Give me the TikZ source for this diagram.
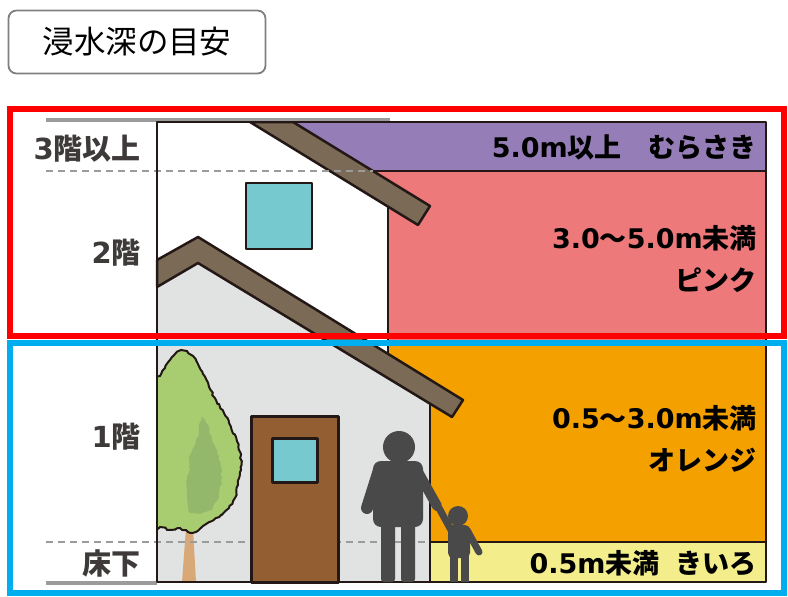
\documentclass[tikz,border=0pt]{standalone}
\usepackage{fontspec}
\setmainfont{Noto Sans CJK JP}
\newfontfamily\numfont{DejaVu Sans}
\newcommand{\dg}[1]{{\numfont #1}}
\usetikzlibrary{decorations.pathmorphing}

\definecolor{inkline}{HTML}{231815}
\definecolor{floorgray}{HTML}{9B9B9B}
\definecolor{roofbrown}{HTML}{7B6A56}
\definecolor{wallgray}{HTML}{E1E2E2}
\definecolor{glass}{HTML}{76C9CE}
\definecolor{doorbrown}{HTML}{935F32}
\definecolor{leaf}{HTML}{A8CC70}
\definecolor{leafdark}{HTML}{93B86C}
\definecolor{trunk}{HTML}{D9A877}
\definecolor{shadow}{HTML}{4A4949}
\definecolor{lvpurple}{HTML}{957EB7}
\definecolor{lvpink}{HTML}{EE797B}
\definecolor{lvorange}{HTML}{F4A100}
\definecolor{lvyellow}{HTML}{F3EE8B}
\definecolor{labelink}{HTML}{3E3A39}
\definecolor{framered}{HTML}{FF0000}
\definecolor{frameblue}{HTML}{00AEEF}

\begin{document}
\begin{tikzpicture}[x=1pt,y=-1pt,
        outline/.style={draw=inkline,line width=2.5pt,line join=round},
        floor/.style={draw=floorgray,line width=4pt},
        level/.style={draw=floorgray,line width=2.2pt,dash pattern=on 7pt off 5pt},
        floorlabel/.style={anchor=east,text=labelink,inner sep=0pt,
            font=\bfseries\fontsize{29}{29}\selectfont},
        depthlabel/.style={anchor=east,text=black,inner sep=0pt,align=right,
            font=\bfseries\fontsize{27}{42}\selectfont},
        person/.style={fill=shadow,draw=none},
        limb/.style={draw=shadow,line cap=round}]
    \useasboundingbox (0,0) rectangle (788,597);

    \node[draw=gray,line width=1.8pt,rounded corners=8pt,minimum width=257pt,
        minimum height=63pt,font=\fontsize{31.5}{31.5}\selectfont] (title) at (137,42) {浸水深の目安};

    % water levels
    \fill[lvpurple] (260,122) rectangle (766,171);
    \fill[lvpink]   (340,171) rectangle (766,340);
    \fill[lvorange] (388,340) rectangle (766,542);
    \fill[lvyellow] (430,542) rectangle (766,582);

    % house
    \fill[white] (157,122) -- (250,122) -- (388,206) -- (388,360) -- (157,360) -- cycle;
    \fill[wallgray] (157,287) -- (198,263) -- (430,404) -- (430,582) -- (157,582) -- cycle;
    \filldraw[fill=roofbrown,outline] (250,122) -- (293,122) -- (430,206) -- (418,225) -- cycle;
    \filldraw[fill=roofbrown,outline] (157,260) -- (198,237) -- (463,400) -- (452,417)
        -- (198,263) -- (157,287) -- cycle;
    \filldraw[fill=glass,outline] (246,183) rectangle (312,249);

    % tree
    \fill[trunk] (182,582) -- (186,528) -- (193,528) -- (196,582) -- cycle;
    \begin{scope}
        \clip (157,340) rectangle (260,545);
        \pgfmathsetseed{3}
        \filldraw[fill=leaf,draw=inkline,line width=2pt,decorate,
            decoration={random steps,segment length=3pt,amplitude=1pt}]
            (152,530) -- (152,378) -- (160,376) -- (165,368) -- (170,360) -- (175,354)
            -- (181,350) -- (187,351) -- (193,356) -- (198,364) -- (203,374) -- (209,387)
            -- (216,400) -- (224,413) -- (231,427) -- (237,441) -- (241,455) -- (241,470)
            -- (238,485) -- (235,498) -- (229,508) -- (221,515) -- (212,521) -- (203,526)
            -- (196,532) -- (188,532) -- (180,528) -- (170,530) -- (160,527) -- cycle;
        \fill[leafdark,decorate,decoration={random steps,segment length=3pt,amplitude=1.2pt}]
            (202,415) -- (208,425) -- (212,440) -- (219,456) -- (222,478) -- (219,498)
            -- (212,510) -- (200,514) -- (190,513) -- (187,500) -- (186,482) -- (190,470)
            -- (189,460) -- (195,445) -- (199,430) -- cycle;
    \end{scope}

    % floor levels
    \draw[level] (46,171) -- (373,171);
    \draw[level] (46,542) -- (430,542);
    \draw[floor] (46,120) -- (390,120);
    \draw[floor] (46,582.5) -- (157,582.5);

    % door
    \filldraw[fill=doorbrown,outline,line width=3pt] (251,416) rectangle (338,582);
    \filldraw[fill=glass,outline,line width=3pt] (272,438) rectangle (317,482);

    % outlines
    \draw[outline] (157,122) -- (766,122) -- (766,582) -- (157,582) -- cycle;
    \draw[outline] (388,206) -- (388,354);
    \draw[outline] (430,404) -- (430,582);
    \draw[outline] (373,171) -- (766,171);
    \draw[outline] (430,542) -- (766,542);

    % adult
    \fill[person] (399,447) circle[radius=16pt];
    \fill[person,rounded corners=8pt] (373,461) rectangle (423,527);
    \draw[limb,line width=12pt] (379,470) -- (367,508);
    \draw[limb,line width=10pt] (417,470) -- (437,506);
    \fill[person,rounded corners=3pt] (381,515) rectangle (395,582);
    \fill[person,rounded corners=3pt] (401,515) rectangle (415,582);
    % child
    \fill[person] (458,516) circle[radius=10pt];
    \fill[person,rounded corners=5pt] (448,525) rectangle (470,558);
    \draw[limb,line width=7pt] (451,530) -- (439,508);
    \draw[limb,line width=7pt] (467,530) -- (479,552);
    \fill[person] (450,550) rectangle (458,582);
    \fill[person] (461,550) rectangle (469,582);

    % frames
    \draw[framered,line width=5.5pt] (10,109) rectangle (784,336);
    \draw[frameblue,line width=5.5pt] (10,343) rectangle (784,593);

    % labels
    \node[floorlabel] (f3) at (141,149) {\dg{3}階以上};
    \node[floorlabel] (f2) at (141,253) {\dg{2}階};
    \node[floorlabel] (f1) at (141,437) {\dg{1}階};
    \node[floorlabel] (f0) at (141,563) {床下};

    \node[depthlabel] (purple) at (757,147) {\dg{5.0m}以上　むらさき};
    \node[depthlabel] (pink)   at (757,259) {\dg{3.0}～\dg{5.0m}未満\\ピンク};
    \node[depthlabel] (orange) at (757,439) {\dg{0.5}～\dg{3.0m}未満\\オレンジ};
    \node[depthlabel] (yellow) at (757,563) {\dg{0.5m}未満\hspace{0.6em}きいろ};
\end{tikzpicture}
\end{document}
